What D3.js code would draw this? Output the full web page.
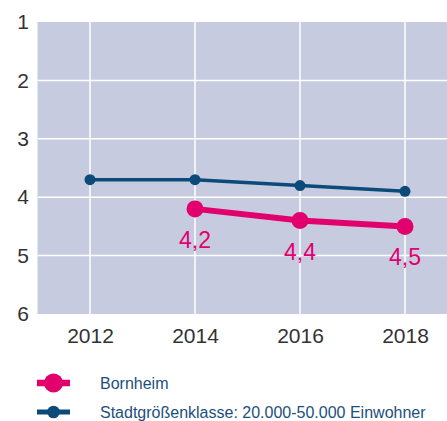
<!DOCTYPE html>
<html>
<head>
<meta charset="utf-8">
<script src="https://cdn.jsdelivr.net/npm/d3@7"></script>
<style>
  body { margin: 0; background: #fff; }
  svg { display: block; font-family: "Liberation Sans", Arial, sans-serif; }
</style>
</head>
<body>
<div id="chart"></div>
<script>
var years = [2012, 2014, 2016, 2018];
var yTicks = [1, 2, 3, 4, 5, 6];
var bornheim = [null, 4.2, 4.4, 4.5];
var bornheimLabels = [null, "4,2", "4,4", "4,5"];
var stadtklasse = [3.7, 3.7, 3.8, 3.9];
var seriesNames = ["Bornheim", "Stadtgrößenklasse: 20.000-50.000 Einwohner"];

var svgWidth = 447;
var svgHeight = 421;

var pink = "#e2006d";
var blue = "#0b4a79";

var svg = d3.select("#chart")
  .append("svg")
  .attr("width", svgWidth)
  .attr("height", svgHeight);

// scales: one year step is about 52px, plot runs off the right edge
var x = d3.scaleLinear()
  .domain([2011, 2019])
  .range([37.5, 457.5]);

var y = d3.scaleLinear()
  .domain([1, 6])
  .range([22, 314]);

// plot background
svg.append("rect")
  .attr("x", x(2011))
  .attr("y", y(1))
  .attr("width", x(2019) - x(2011))
  .attr("height", y(6) - y(1))
  .attr("fill", "#c6cbe0");

// grid
svg.append("g")
  .selectAll("line")
  .data(yTicks.slice(1, -1))
  .enter().append("line")
  .attr("x1", x(2011))
  .attr("x2", x(2019))
  .attr("y1", d => y(d))
  .attr("y2", d => y(d))
  .attr("stroke", "#fff")
  .attr("stroke-width", 1.5);

svg.append("g")
  .selectAll("line")
  .data(years)
  .enter().append("line")
  .attr("x1", d => x(d))
  .attr("x2", d => x(d))
  .attr("y1", y(1))
  .attr("y2", y(6))
  .attr("stroke", "#fff")
  .attr("stroke-width", 1.5);

// axes
var yAxis = svg.append("g")
  .attr("transform", "translate(30,0)")
  .call(d3.axisLeft(y).tickValues(yTicks).tickSize(0).tickFormat(d3.format("d")));
yAxis.select(".domain").remove();
yAxis.selectAll("text")
  .attr("x", -1)
  .attr("font-size", 21)
  .attr("font-family", "Liberation Sans, Arial, sans-serif")
  .attr("fill", "#333");

var xAxis = svg.append("g")
  .attr("transform", `translate(0, ${y(6)})`)
  .call(d3.axisBottom(x).tickValues(years).tickSize(0).tickFormat(d3.format("d")));
xAxis.select(".domain").remove();
xAxis.selectAll("text")
  .attr("y", 14)
  .attr("font-size", 21)
  .attr("font-family", "Liberation Sans, Arial, sans-serif")
  .attr("fill", "#333");

// lines
var blueData = years.map((yr, i) => ({ year: yr, value: stadtklasse[i] }));
var pinkData = years.map((yr, i) => ({ year: yr, value: bornheim[i], label: bornheimLabels[i] }))
  .filter(d => d.value != null);

var line = d3.line()
  .x(d => x(d.year))
  .y(d => y(d.value));

svg.append("path")
  .datum(blueData)
  .attr("d", line)
  .attr("fill", "none")
  .attr("stroke", blue)
  .attr("stroke-width", 3.5);

svg.selectAll(".bluePt")
  .data(blueData)
  .enter().append("circle")
  .attr("class", "bluePt")
  .attr("cx", d => x(d.year))
  .attr("cy", d => y(d.value))
  .attr("r", 5.5)
  .attr("fill", blue);

svg.append("path")
  .datum(pinkData)
  .attr("d", line)
  .attr("fill", "none")
  .attr("stroke", pink)
  .attr("stroke-width", 6);

svg.selectAll(".pinkPt")
  .data(pinkData)
  .enter().append("circle")
  .attr("class", "pinkPt")
  .attr("cx", d => x(d.year))
  .attr("cy", d => y(d.value))
  .attr("r", 8.5)
  .attr("fill", pink);

svg.selectAll(".pinkLbl")
  .data(pinkData)
  .enter().append("text")
  .attr("class", "pinkLbl")
  .attr("x", d => x(d.year))
  .attr("y", d => y(d.value) + 39)
  .attr("text-anchor", "middle")
  .attr("font-size", 23)
  .attr("fill", pink)
  .text(d => d.label);

// legend
var legend = svg.append("g");
var legendRows = [
  { name: seriesNames[0], color: pink, r: 9.5, w: 6.5, cy: 383 },
  { name: seriesNames[1], color: blue, r: 6.3, w: 5, cy: 412 }
];

legendRows.forEach(function(d) {
  legend.append("line")
    .attr("x1", 37).attr("x2", 70)
    .attr("y1", d.cy).attr("y2", d.cy)
    .attr("stroke", d.color)
    .attr("stroke-width", d.w);
  legend.append("circle")
    .attr("cx", 53.5).attr("cy", d.cy)
    .attr("r", d.r)
    .attr("fill", d.color);
  legend.append("text")
    .attr("x", 100)
    .attr("y", d.cy + 5.5)
    .attr("font-size", 16)
    .attr("fill", "#1d4f7c")
    .text(d.name);
});
</script>
</body>
</html>
